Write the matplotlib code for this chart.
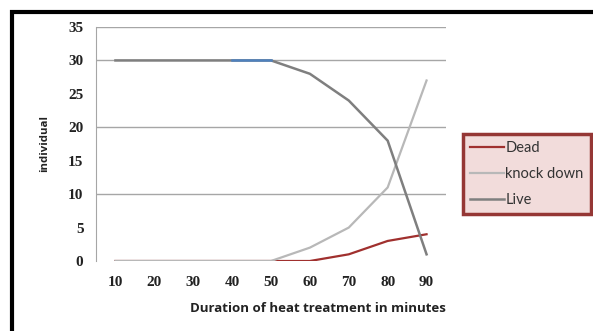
import matplotlib.pyplot as plt
from matplotlib.patches import Rectangle

minutes = ["10", "20", "30", "40", "50", "60", "70", "80", "90"]
dead = [0, 0, 0, 0, 0, 0, 1, 3, 4]
knock_down = [0, 0, 0, 0, 0, 2, 5, 11, 27]
live = [30, 30, 30, 30, 30, 28, 24, 18, 1]
# short blue piece drawn over Live between 40 and 50
blue_x = [3, 4]
blue_y = [30, 30]

W, H = 593, 331
fig = plt.figure(figsize=(W / 100, H / 100), dpi=100)

# thick black frame round the picture
fig.patches.append(Rectangle((12 / W, -0.2), 1.2, 1.2 - 12 / H,
                             transform=fig.transFigure, fill=False,
                             edgecolor="black", linewidth=3))

ax = fig.add_axes([96 / W, 1 - 261 / H, 350 / W, 234 / H])
x = range(len(minutes))
ax.plot(x, dead, color="#A0302E", linewidth=1.6, label="Dead", zorder=3)
ax.plot(x, knock_down, color="#B8B8B8", linewidth=1.6, label="knock down", zorder=4)
ax.plot(x, live, color="#7F7F7F", linewidth=1.8, label="Live", zorder=5)
ax.plot(blue_x, blue_y, color="#4F81BD", linewidth=1.8, zorder=6)

ax.set_xlim(-0.5, 8.5)
ax.set_ylim(0, 35)
ax.set_yticks(range(0, 36, 5))
ax.set_xticks(list(x))
ax.set_xticklabels(minutes)
for yv in [10, 20, 30, 35]:
    ax.axhline(yv, color="#A6A6A6", linewidth=1, zorder=1)

for s in ["top", "right", "bottom"]:
    ax.spines[s].set_visible(False)
ax.spines["left"].set_color("#A6A6A6")
ax.tick_params(length=0)
ax.tick_params(axis="y", pad=9)
ax.tick_params(axis="x", pad=11)
for lab in ax.get_xticklabels() + ax.get_yticklabels():
    lab.set_fontfamily("Liberation Serif")
    lab.set_fontweight("bold")
    lab.set_fontsize(11)
    lab.set_color("#222222")

fig.text(318 / W, 1 - 308 / H, "Duration of heat treatment in minutes",
         ha="center", va="center", fontsize=9.5, fontweight="bold",
         family="Open Sans", color="#222222")
fig.text(45 / W, 1 - 143 / H, "individual", ha="center", va="center",
         rotation=90, fontsize=8.2, fontweight="bold", family="Open Sans",
         color="#222222")

leg = fig.legend(loc="upper left", bbox_to_anchor=(463 / W, 1 - 134 / H),
                 frameon=True, fancybox=False, handlelength=2.3,
                 handletextpad=0.1, borderpad=0.5, labelspacing=0.8,
                 borderaxespad=0, prop={"family": "Lato", "size": 10.5})
leg.get_frame().set_facecolor("#F2DCDB")
leg.get_frame().set_edgecolor("#953735")
leg.get_frame().set_linewidth(2.5)
leg.get_frame().set_alpha(1)
for t in leg.get_texts():
    t.set_color("#333333")

fig.savefig("out.png", dpi=100)
